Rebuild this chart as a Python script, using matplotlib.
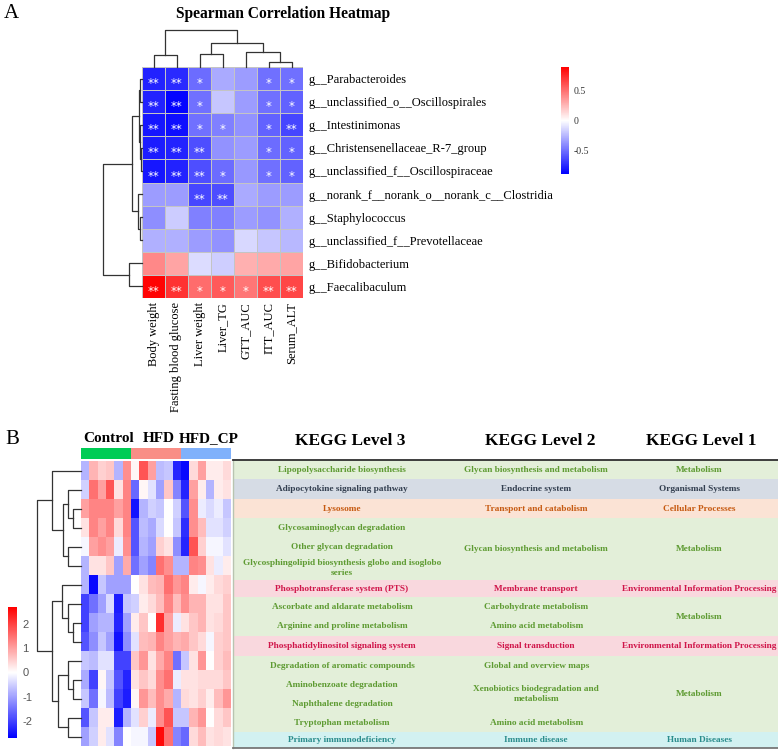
import numpy as np
import matplotlib
matplotlib.use("Agg")
import matplotlib.pyplot as plt
from matplotlib.colors import ListedColormap

plt.rcParams['font.family'] = ['Liberation Serif', 'DejaVu Serif']

W, H = 778, 750

# ---------------- panel A data ----------------
genera = ['g__Parabacteroides', 'g__unclassified_o__Oscillospirales', 'g__Intestinimonas',
          'g__Christensenellaceae_R-7_group', 'g__unclassified_f__Oscillospiraceae',
          'g__norank_f__norank_o__norank_c__Clostridia', 'g__Staphylococcus',
          'g__unclassified_f__Prevotellaceae', 'g__Bifidobacterium', 'g__Faecalibaculum']
traits = ['Body weight', 'Fasting blood glucose', 'Liver weight', 'Liver_TG',
          'GTT_AUC', 'ITT_AUC', 'Serum_ALT']
rho = np.array([
    [-0.78, -0.75, -0.52, -0.30, -0.35, -0.50, -0.50],
    [-0.78, -0.88, -0.50, -0.20, -0.35, -0.50, -0.55],
    [-0.82, -0.85, -0.50, -0.45, -0.38, -0.55, -0.65],
    [-0.80, -0.78, -0.62, -0.38, -0.35, -0.52, -0.55],
    [-0.82, -0.78, -0.62, -0.52, -0.36, -0.50, -0.55],
    [-0.35, -0.35, -0.65, -0.62, -0.30, -0.35, -0.35],
    [-0.40, -0.18, -0.45, -0.45, -0.35, -0.38, -0.28],
    [-0.28, -0.28, -0.35, -0.38, -0.14, -0.20, -0.25],
    [0.42, 0.32, -0.12, -0.17, 0.28, 0.30, 0.32],
    [0.88, 0.72, 0.52, 0.58, 0.48, 0.62, 0.65],
])
stars = [
    ['**', '**', '*', '', '', '*', '*'],
    ['**', '**', '*', '', '', '*', '*'],
    ['**', '**', '*', '*', '', '*', '**'],
    ['**', '**', '**', '', '', '*', '*'],
    ['**', '**', '**', '*', '', '*', '*'],
    ['', '', '**', '**', '', '', ''],
    ['', '', '', '', '', '', ''],
    ['', '', '', '', '', '', ''],
    ['', '', '', '', '', '', ''],
    ['**', '**', '*', '*', '*', '**', '**'],
]
# linkage: (child a, child b, height); leaves in display order
col_link = [(5, 6, 0.14), (0, 1, 0.32), (2, 3, 0.35), (4, 7, 0.40), (9, 10, 0.65), (8, 11, 1.0)]
row_link = [(3, 4, 0.03), (0, 1, 0.04), (2, 10, 0.05), (11, 12, 0.07), (6, 7, 0.05),
            (5, 14, 0.10), (13, 15, 0.26), (8, 9, 0.34), (16, 17, 1.0)]

# ---------------- panel B data ----------------
groups = ['Control', 'HFD', 'HFD_CP']
group_sizes = [6, 6, 6]
group_colors = ['#00cc55', '#f98e86', '#80b1fb']
zscore = np.array([
    [-0.8, 0.8, 0.5, 0.6, -0.8, 1.2, 0.1, 1.8, 1.0, -0.7, -0.6, -2.3, -2.6, 0.4, 1.0, 0.2, 0.2, 0.4],
    [-0.5, 1.5, 1.0, 1.8, 0.3, 1.3, -1.6, 0.1, -0.3, -1.0, 0.6, -1.3, -2.3, 1.0, 0.2, -0.8, 0.2, 0.3],
    [1.0, 1.3, 1.3, 1.3, 1.0, 1.3, -2.5, -0.8, -0.5, -0.6, 0.0, -0.5, -1.8, 1.2, -0.2, -0.4, -0.2, -0.6],
    [0.3, 1.3, 1.0, 1.3, 0.4, 1.3, -1.8, -0.7, -0.9, -0.4, 0.0, -0.6, -2.2, 1.2, 0.7, -0.3, -0.3, -0.5],
    [-0.1, 1.0, 1.2, 1.0, -0.2, 1.2, -1.8, -0.8, -1.0, 0.5, 0.3, -1.2, -2.3, 1.8, 0.5, -0.1, -0.1, -0.3],
    [-0.8, 0.3, 0.3, 0.6, -1.0, 0.9, -1.5, -1.0, -1.3, 1.5, 1.2, -0.8, -0.8, 1.3, 1.2, 0.3, -0.2, 0.2],
    [-0.8, -2.6, -0.6, -1.0, -1.0, -1.0, 0.0, 0.3, 0.7, 0.8, 1.5, 1.1, 1.3, 0.2, -0.1, 0.2, 0.4, 0.5],
    [-2.0, -1.5, -1.0, -0.4, -2.4, -0.6, -0.5, 0.2, 0.4, 0.7, 1.3, 0.7, 1.2, 0.8, 0.8, 0.3, 0.3, 0.6],
    [-2.0, -1.0, -0.8, -0.8, -2.3, -1.0, 0.2, 0.6, 0.0, 2.2, 1.0, -0.2, 0.3, 0.6, 0.8, 0.3, 0.4, 0.6],
    [-1.8, -1.2, -0.6, -1.0, -2.5, -1.2, -0.3, 0.7, 0.8, 1.3, 1.0, 0.8, 0.9, 0.6, 0.4, -0.1, 0.5, 0.6],
    [-0.6, -0.7, -0.3, -0.3, -2.0, -2.0, 0.6, 1.1, 0.3, 0.9, 1.3, -1.5, -0.6, 0.3, 1.1, 0.0, 0.5, 0.7],
    [-0.9, -2.0, 0.1, -0.6, -1.8, -2.3, 0.3, 0.6, 0.4, 1.2, 1.5, -0.2, 0.3, 0.3, 0.4, 0.4, 0.4, 0.6],
    [-0.6, -1.5, -0.1, -0.7, -2.0, -2.4, 0.1, 1.1, 0.7, 1.2, 0.9, -0.8, 0.4, 0.3, 0.5, 0.2, 0.7, 1.1],
    [-1.8, -0.6, 0.2, 0.2, -2.4, -0.8, -0.3, 0.5, -0.2, 1.2, 1.8, -0.6, -0.6, 0.8, 1.1, 0.0, 0.4, 0.6],
    [-1.0, -0.5, 0.2, -0.3, -1.3, 0.0, -0.1, -0.1, -0.6, 2.6, 1.5, -1.3, -1.6, 0.4, 0.7, 0.3, 0.4, 0.3],
])
kegg_row_link = [(2, 3, 0.18), (1, 15, 0.30), (4, 5, 0.30), (16, 17, 0.40), (0, 18, 0.66),
                 (8, 9, 0.18), (7, 20, 0.30), (6, 21, 0.43),
                 (11, 12, 0.18), (10, 23, 0.30), (13, 14, 0.30), (24, 25, 0.52),
                 (22, 26, 0.66), (19, 27, 1.0)]

level3 = ['Lipopolysaccharide biosynthesis', 'Adipocytokine signaling pathway', 'Lysosome',
          'Glycosaminoglycan degradation', 'Other glycan degradation',
          'Glycosphingolipid biosynthesis globo and isoglobo\nseries',
          'Phosphotransferase system (PTS)', 'Ascorbate and aldarate metabolism',
          'Arginine and proline metabolism', 'Phosphatidylinositol signaling system',
          'Degradation of aromatic compounds', 'Aminobenzoate degradation',
          'Naphthalene degradation', 'Tryptophan metabolism', 'Primary immunodeficiency']
level2 = [('Glycan biosynthesis and metabolism', 0, 1), ('Endocrine system', 1, 2),
          ('Transport and catabolism', 2, 3), ('Glycan biosynthesis and metabolism', 3, 6),
          ('Membrane transport', 6, 7), ('Carbohydrate metabolism', 7, 8),
          ('Amino acid metabolism', 8, 9), ('Signal transduction', 9, 10),
          ('Global and overview maps', 10, 11), ('Xenobiotics biodegradation and\nmetabolism', 11, 13),
          ('Amino acid metabolism', 13, 14), ('Immune disease', 14, 15)]
level1 = [('Metabolism', 0, 1), ('Organismal Systems', 1, 2), ('Cellular Processes', 2, 3),
          ('Metabolism', 3, 6), ('Environmental Information Processing', 6, 7), ('Metabolism', 7, 9),
          ('Environmental Information Processing', 9, 10), ('Metabolism', 10, 14),
          ('Human Diseases', 14, 15)]
cat_bg = {'Metabolism': '#e3efd9', 'Organismal Systems': '#d6dce5', 'Cellular Processes': '#fbe3d5',
          'Environmental Information Processing': '#f9d8de', 'Human Diseases': '#d2f1f1'}
cat_fg = {'Metabolism': '#5e9b32', 'Organismal Systems': '#333f50', 'Cellular Processes': '#c65a11',
          'Environmental Information Processing': '#d0164a', 'Human Diseases': '#2a8c8c'}

# table row edges in pixels (the two-line row is taller)
row_edges = [460, 479, 499, 518, 537, 556, 580, 597, 616, 636, 656, 675, 694, 713, 732, 748]


def px_axes(fig, x, y, w, h):
    ax = fig.add_axes([x / W, 1 - (y + h) / H, w / W, h / H])
    ax.set_axis_off()
    return ax


def dendro(ax, links, n, orient, color='#333333', lw=0.9):
    pos = {i: i + 0.5 for i in range(n)}
    hgt = {i: 0.0 for i in range(n)}
    for k, (a, b, d) in enumerate(links):
        xs = [pos[a], pos[a], pos[b], pos[b]]
        ys = [hgt[a], d, d, hgt[b]]
        if orient == 'top':
            ax.plot(xs, ys, color=color, lw=lw, clip_on=False)
        else:
            ax.plot(ys, xs, color=color, lw=lw, clip_on=False)
        pos[n + k] = (pos[a] + pos[b]) / 2
        hgt[n + k] = d
    if orient == 'top':
        ax.set_xlim(0, n)
        ax.set_ylim(0, 1.0)
    else:
        ax.set_ylim(n, 0)
        ax.set_xlim(1.0, 0)


fig = plt.figure(figsize=(W / 100, H / 100), dpi=100)

# ---------------- panel A ----------------
fig.text(4 / W, 1 - 13 / H, 'A', fontsize=15, va='center', ha='left')
fig.text(283 / W, 1 - 14 / H, 'Spearman Correlation Heatmap', fontsize=11.2,
         fontweight='bold', va='center', ha='center')

axA = fig.add_axes([142 / W, 1 - 298 / H, 161 / W, 231 / H])
mesh = axA.pcolormesh(rho, cmap='bwr', vmin=-0.9, vmax=0.9, edgecolors='#c4c4c4', linewidth=0.7)
axA.set_ylim(len(genera), 0)
for s in axA.spines.values():
    s.set_visible(False)
axA.set_xticks(np.arange(len(traits)) + 0.5)
axA.set_xticklabels(traits, rotation=90, fontsize=9)
axA.set_yticks(np.arange(len(genera)) + 0.5)
axA.set_yticklabels(genera, fontsize=9)
axA.yaxis.tick_right()
axA.tick_params(length=0, pad=4)
axA.tick_params(axis='x', pad=3)
for i, row in enumerate(stars):
    for j, s in enumerate(row):
        if s:
            axA.text(j + 0.5, i + 0.72, s, color='white', fontsize=8.5, ha='center', va='center',
                     family='DejaVu Sans')

dendro(px_axes(fig, 142, 30, 161, 37), col_link, len(traits), 'top')
dendro(px_axes(fig, 103, 67, 39, 231), row_link, len(genera), 'left')

caxA = fig.add_axes([561 / W, 1 - 174 / H, 8 / W, 107 / H])
cbA = fig.colorbar(mesh, cax=caxA, ticks=[-0.5, 0, 0.5])
cbA.outline.set_visible(False)
cbA.ax.set_yticklabels(['-0.5', '0', '0.5'])
cbA.ax.tick_params(length=0, labelsize=7, pad=3, colors='#333333')

# ---------------- panel B ----------------
fig.text(5 / W, 1 - 440 / H, 'B', fontsize=15, va='center', ha='left')

axB = fig.add_axes([81 / W, 1 - 746 / H, 150 / W, 285 / H])
meshB = axB.pcolormesh(zscore, cmap='bwr', vmin=-2.7, vmax=2.7)
axB.set_ylim(zscore.shape[0], 0)
axB.set_axis_off()

axG = px_axes(fig, 81, 448, 150, 11)
gidx = np.repeat(np.arange(len(groups)), group_sizes)[None, :]
axG.pcolormesh(gidx, cmap=ListedColormap(group_colors), vmin=-0.5, vmax=len(groups) - 0.5)
axG.set_xlim(0, sum(group_sizes))
axG.set_ylim(0, 1)
starts = np.cumsum([0] + group_sizes[:-1])
for g, st, sz in zip(groups, starts, group_sizes):
    axG.text(st + sz / 2 + 0.3, 1.85, g, fontsize=11, fontweight='bold', ha='center', va='center',
             clip_on=False)

dendro(px_axes(fig, 37, 461, 44, 285), kegg_row_link, zscore.shape[0], 'left')

caxB = fig.add_axes([8 / W, 1 - 738 / H, 9 / W, 131 / H])
cbB = fig.colorbar(meshB, cax=caxB, ticks=[-2, -1, 0, 1, 2])
cbB.outline.set_visible(False)
cbB.ax.set_yticklabels(['-2', '-1', '0', '1', '2'])
cbB.ax.tick_params(length=0, labelsize=8, pad=4, colors='#555555')
for t in cbB.ax.get_yticklabels():
    t.set_family(['Liberation Sans', 'DejaVu Sans'])

# table, y in figure pixels
axT = px_axes(fig, 231, row_edges[0], 547, row_edges[-1] - row_edges[0])
axT.set_xlim(0, 1)
axT.set_ylim(row_edges[-1], row_edges[0])


def mid(a, b):
    return (row_edges[a] + row_edges[b]) / 2


row_cat = {}
for cat, a, b in level1:
    axT.axhspan(row_edges[a], row_edges[b], xmin=0.004, xmax=1, color=cat_bg[cat], lw=0)
    for r in range(a, b):
        row_cat[r] = cat
    axT.text(0.856, mid(a, b), cat, color=cat_fg[cat], fontsize=6.7, fontweight='bold',
             ha='center', va='center')
for name, a, b in level2:
    axT.text(0.558, mid(a, b), name, color=cat_fg[row_cat[a]], fontsize=6.7, fontweight='bold',
             ha='center', va='center', linespacing=1.3)
for r, name in enumerate(level3):
    axT.text(0.203, mid(r, r + 1), name, color=cat_fg[row_cat[r]], fontsize=6.7, fontweight='bold',
             ha='center', va='center', linespacing=1.2)
axT.plot([0.004, 0.004], [row_edges[0], row_edges[-1]], color='#b8c4b0', lw=1, clip_on=False)
axT.plot([0.004, 1], [row_edges[0], row_edges[0]], color='#2f2f2f', lw=1.3, clip_on=False)
axT.plot([0.004, 1], [row_edges[-1], row_edges[-1]], color='#777777', lw=1.3, clip_on=False)

for label, cx in zip(['KEGG Level 3', 'KEGG Level 2', 'KEGG Level 1'], [350, 540, 701]):
    fig.text(cx / W, 1 - 441 / H, label, fontsize=12.5, fontweight='bold', ha='center', va='center')

fig.savefig('out.png', dpi=100)
